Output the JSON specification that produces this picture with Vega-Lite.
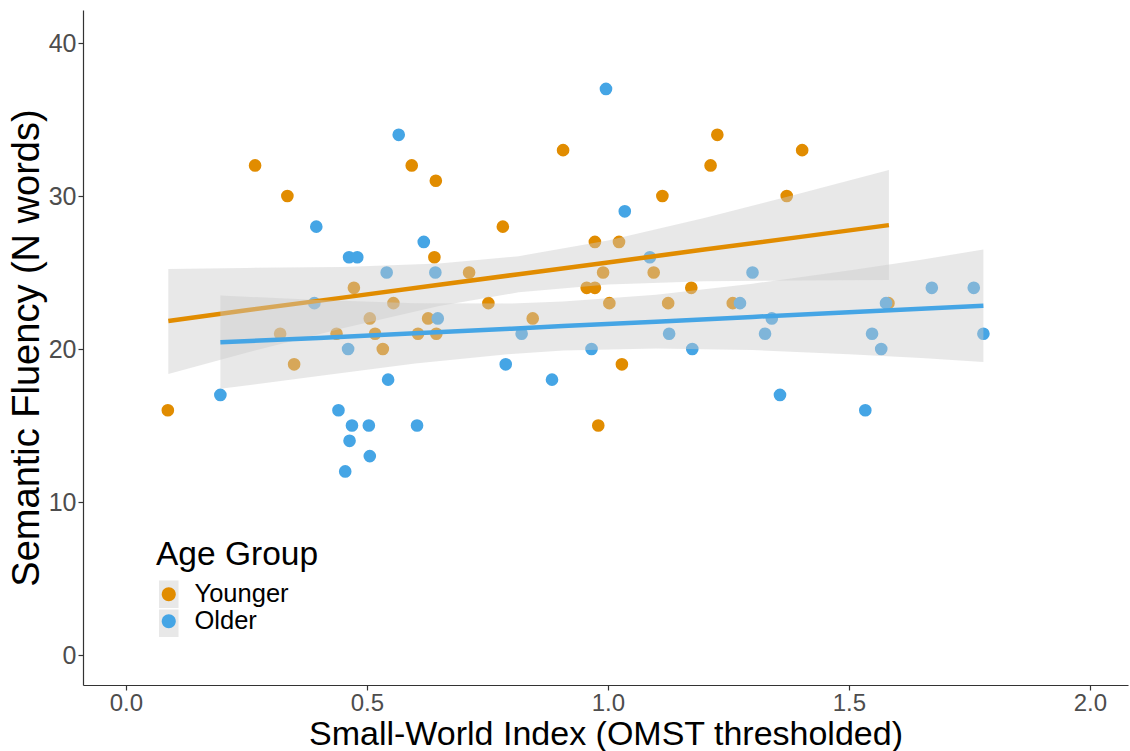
{
  "$schema": "https://vega.github.io/schema/vega-lite/v6.json",
  "width": 1045,
  "height": 675,
  "autosize": "none",
  "padding": {"left": 83, "top": 10, "right": 2, "bottom": 66},
  "background": "white",
  "config": {
    "font": "Liberation Sans",
    "view": {"stroke": null},
    "axis": {
      "grid": false,
      "domainColor": "#333333",
      "domainWidth": 1.2,
      "tickColor": "#333333",
      "tickWidth": 1.2,
      "tickSize": 5,
      "labelFont": "Liberation Sans",
      "labelFontSize": 25,
      "labelColor": "#4d4d4d",
      "titleFont": "Liberation Sans",
      "titleFontWeight": "normal",
      "titleColor": "#000000"
    }
  },
  "datasets": {
    "points": [
      {"swi": 0.087, "fluency": 16, "group": "Younger"},
      {"swi": 0.268, "fluency": 32, "group": "Younger"},
      {"swi": 0.335, "fluency": 30, "group": "Younger"},
      {"swi": 0.320, "fluency": 21, "group": "Younger"},
      {"swi": 0.349, "fluency": 19, "group": "Younger"},
      {"swi": 0.437, "fluency": 21, "group": "Younger"},
      {"swi": 0.473, "fluency": 24, "group": "Younger"},
      {"swi": 0.506, "fluency": 22, "group": "Younger"},
      {"swi": 0.517, "fluency": 21, "group": "Younger"},
      {"swi": 0.533, "fluency": 20, "group": "Younger"},
      {"swi": 0.555, "fluency": 23, "group": "Younger"},
      {"swi": 0.593, "fluency": 32, "group": "Younger"},
      {"swi": 0.606, "fluency": 21, "group": "Younger"},
      {"swi": 0.627, "fluency": 22, "group": "Younger"},
      {"swi": 0.640, "fluency": 26, "group": "Younger"},
      {"swi": 0.643, "fluency": 31, "group": "Younger"},
      {"swi": 0.644, "fluency": 21, "group": "Younger"},
      {"swi": 0.712, "fluency": 25, "group": "Younger"},
      {"swi": 0.752, "fluency": 23, "group": "Younger"},
      {"swi": 0.782, "fluency": 28, "group": "Younger"},
      {"swi": 0.844, "fluency": 22, "group": "Younger"},
      {"swi": 0.907, "fluency": 33, "group": "Younger"},
      {"swi": 0.956, "fluency": 24, "group": "Younger"},
      {"swi": 0.973, "fluency": 24, "group": "Younger"},
      {"swi": 0.973, "fluency": 27, "group": "Younger"},
      {"swi": 0.980, "fluency": 15, "group": "Younger"},
      {"swi": 0.990, "fluency": 25, "group": "Younger"},
      {"swi": 1.003, "fluency": 23, "group": "Younger"},
      {"swi": 1.023, "fluency": 27, "group": "Younger"},
      {"swi": 1.029, "fluency": 19, "group": "Younger"},
      {"swi": 1.095, "fluency": 25, "group": "Younger"},
      {"swi": 1.113, "fluency": 30, "group": "Younger"},
      {"swi": 1.125, "fluency": 23, "group": "Younger"},
      {"swi": 1.173, "fluency": 24, "group": "Younger"},
      {"swi": 1.213, "fluency": 32, "group": "Younger"},
      {"swi": 1.227, "fluency": 34, "group": "Younger"},
      {"swi": 1.259, "fluency": 23, "group": "Younger"},
      {"swi": 1.371, "fluency": 30, "group": "Younger"},
      {"swi": 1.403, "fluency": 33, "group": "Younger"},
      {"swi": 1.582, "fluency": 23, "group": "Younger"},
      {"swi": 0.196, "fluency": 17, "group": "Older"},
      {"swi": 0.391, "fluency": 23, "group": "Older"},
      {"swi": 0.395, "fluency": 28, "group": "Older"},
      {"swi": 0.441, "fluency": 16, "group": "Older"},
      {"swi": 0.455, "fluency": 12, "group": "Older"},
      {"swi": 0.461, "fluency": 20, "group": "Older"},
      {"swi": 0.463, "fluency": 26, "group": "Older"},
      {"swi": 0.464, "fluency": 14, "group": "Older"},
      {"swi": 0.469, "fluency": 15, "group": "Older"},
      {"swi": 0.480, "fluency": 26, "group": "Older"},
      {"swi": 0.504, "fluency": 15, "group": "Older"},
      {"swi": 0.506, "fluency": 13, "group": "Older"},
      {"swi": 0.541, "fluency": 25, "group": "Older"},
      {"swi": 0.544, "fluency": 18, "group": "Older"},
      {"swi": 0.566, "fluency": 34, "group": "Older"},
      {"swi": 0.604, "fluency": 15, "group": "Older"},
      {"swi": 0.618, "fluency": 27, "group": "Older"},
      {"swi": 0.642, "fluency": 25, "group": "Older"},
      {"swi": 0.647, "fluency": 22, "group": "Older"},
      {"swi": 0.788, "fluency": 19, "group": "Older"},
      {"swi": 0.821, "fluency": 21, "group": "Older"},
      {"swi": 0.884, "fluency": 18, "group": "Older"},
      {"swi": 0.966, "fluency": 20, "group": "Older"},
      {"swi": 0.996, "fluency": 37, "group": "Older"},
      {"swi": 1.035, "fluency": 29, "group": "Older"},
      {"swi": 1.087, "fluency": 26, "group": "Older"},
      {"swi": 1.127, "fluency": 21, "group": "Older"},
      {"swi": 1.175, "fluency": 20, "group": "Older"},
      {"swi": 1.274, "fluency": 23, "group": "Older"},
      {"swi": 1.300, "fluency": 25, "group": "Older"},
      {"swi": 1.326, "fluency": 21, "group": "Older"},
      {"swi": 1.340, "fluency": 22, "group": "Older"},
      {"swi": 1.357, "fluency": 17, "group": "Older"},
      {"swi": 1.534, "fluency": 16, "group": "Older"},
      {"swi": 1.548, "fluency": 21, "group": "Older"},
      {"swi": 1.567, "fluency": 20, "group": "Older"},
      {"swi": 1.577, "fluency": 23, "group": "Older"},
      {"swi": 1.672, "fluency": 24, "group": "Older"},
      {"swi": 1.759, "fluency": 24, "group": "Older"},
      {"swi": 1.779, "fluency": 21, "group": "Older"}
    ],
    "fits": [
      {"x": 0.088, "lo": 18.37, "hi": 25.23, "fit": 21.83, "group": "Younger"},
      {"x": 0.25, "lo": 19.76, "hi": 25.30, "fit": 22.53, "group": "Younger"},
      {"x": 0.45, "lo": 21.36, "hi": 25.36, "fit": 23.36, "group": "Younger"},
      {"x": 0.65, "lo": 22.81, "hi": 25.59, "fit": 24.20, "group": "Younger"},
      {"x": 0.815, "lo": 23.71, "hi": 26.07, "fit": 24.89, "group": "Younger"},
      {"x": 1.0, "lo": 24.22, "hi": 27.10, "fit": 25.66, "group": "Younger"},
      {"x": 1.2, "lo": 24.43, "hi": 28.57, "fit": 26.50, "group": "Younger"},
      {"x": 1.4, "lo": 24.48, "hi": 30.18, "fit": 27.33, "group": "Younger"},
      {"x": 1.583, "lo": 24.52, "hi": 31.70, "fit": 28.10, "group": "Younger"},
      {"x": 0.196, "lo": 17.40, "hi": 23.50, "fit": 20.44, "group": "Older"},
      {"x": 0.4, "lo": 18.24, "hi": 23.20, "fit": 20.72, "group": "Older"},
      {"x": 0.6, "lo": 19.06, "hi": 23.00, "fit": 21.03, "group": "Older"},
      {"x": 0.8, "lo": 19.68, "hi": 22.98, "fit": 21.33, "group": "Older"},
      {"x": 0.907, "lo": 19.90, "hi": 23.10, "fit": 21.50, "group": "Older"},
      {"x": 1.1, "lo": 20.03, "hi": 23.55, "fit": 21.79, "group": "Older"},
      {"x": 1.3, "lo": 19.93, "hi": 24.27, "fit": 22.10, "group": "Older"},
      {"x": 1.5, "lo": 19.66, "hi": 25.14, "fit": 22.40, "group": "Older"},
      {"x": 1.65, "lo": 19.42, "hi": 25.84, "fit": 22.63, "group": "Older"},
      {"x": 1.779, "lo": 19.16, "hi": 26.50, "fit": 22.83, "group": "Older"}
    ]
  },
  "layer": [
    {
      "data": {"name": "points"},
      "mark": {"type": "point", "filled": true, "size": 160, "opacity": 1, "strokeWidth": 0},
      "encoding": {
        "x": {"field": "swi", "type": "quantitative", "title": "Small-World Index (OMST thresholded)",
          "scale": {"domain": [-0.089, 2.079], "nice": false, "zero": false},
          "axis": {"values": [0, 0.5, 1, 1.5, 2], "format": ".1f", "labelFontSize": 24, "labelPadding": 1, "titlePadding": 2, "titleFontSize": 34}},
        "y": {"field": "fluency", "type": "quantitative", "title": "Semantic Fluency (N words)",
          "scale": {"domain": [-1.96, 42.16], "nice": false, "zero": false},
          "axis": {"values": [0, 10, 20, 30, 40], "labelPadding": 2, "titlePadding": 2, "titleFontSize": 38}},
        "fill": {"field": "group", "type": "nominal",
          "scale": {"domain": ["Younger", "Older"], "range": ["#E18C00", "#45A5E5"]},
          "legend": {
            "orient": "none", "legendX": 73, "legendY": 529, "padding": 0,
            "title": "Age Group", "titleFontSize": 33.5, "titleFontWeight": "normal", "titleColor": "#000000",
            "titlePadding": 9, "labelFontSize": 25.5, "labelColor": "#000000", "labelOffset": 13,
            "symbolType": "M0.56,0A0.56,0.56,0,1,1,-0.56,0A0.56,0.56,0,1,1,0.56,0Z",
            "symbolSize": 625, "symbolStrokeWidth": 0, "symbolOpacity": 1, "rowPadding": 0, "zindex": 3
          }}
      }
    },
    {
      "data": {"name": "fits"},
      "transform": [{"filter": "datum.group === 'Younger'"}],
      "mark": {"type": "area", "opacity": 0.44},
      "encoding": {
        "x": {"field": "x", "type": "quantitative", "title": "Small-World Index (OMST thresholded)"},
        "y": {"field": "lo", "type": "quantitative", "title": "Semantic Fluency (N words)"},
        "y2": {"field": "hi"},
        "color": {"field": "group", "type": "nominal",
          "scale": {"range": ["#cbcbcb", "#cbcbcb"]},
          "legend": {
            "orient": "none", "legendX": 73, "legendY": 529, "padding": 0,
            "title": "Age Group", "titleFontSize": 33.5, "titleFontWeight": "normal", "titleColor": "rgba(0,0,0,0)",
            "titlePadding": 9, "labelFontSize": 25.5, "labelExpr": "''", "labelOffset": 13,
            "symbolType": "M-0.78,-1.1L0.78,-1.1L0.78,1.1L-0.78,1.1Z",
            "symbolSize": 625, "symbolStrokeWidth": 0, "symbolOpacity": 0.35, "rowPadding": 0, "zindex": 1
          }}
      }
    },
    {
      "data": {"name": "fits"},
      "transform": [{"filter": "datum.group === 'Younger'"}],
      "mark": {"type": "line", "strokeWidth": 4.5},
      "encoding": {
        "x": {"field": "x", "type": "quantitative", "title": "Small-World Index (OMST thresholded)"},
        "y": {"field": "fit", "type": "quantitative", "title": "Semantic Fluency (N words)"},
        "stroke": {"field": "group", "type": "nominal",
          "scale": {"domain": ["Younger", "Older"], "range": ["#E18C00", "#45A5E5"]}, "legend": null}
      }
    },
    {
      "data": {"name": "fits"},
      "transform": [{"filter": "datum.group === 'Older'"}],
      "mark": {"type": "area", "opacity": 0.44},
      "encoding": {
        "x": {"field": "x", "type": "quantitative", "title": "Small-World Index (OMST thresholded)"},
        "y": {"field": "lo", "type": "quantitative", "title": "Semantic Fluency (N words)"},
        "y2": {"field": "hi"},
        "color": {"field": "group", "type": "nominal"}
      }
    },
    {
      "data": {"name": "fits"},
      "transform": [{"filter": "datum.group === 'Older'"}],
      "mark": {"type": "line", "strokeWidth": 4.5},
      "encoding": {
        "x": {"field": "x", "type": "quantitative", "title": "Small-World Index (OMST thresholded)"},
        "y": {"field": "fit", "type": "quantitative", "title": "Semantic Fluency (N words)"},
        "stroke": {"field": "group", "type": "nominal"}
      }
    }
  ]
}
